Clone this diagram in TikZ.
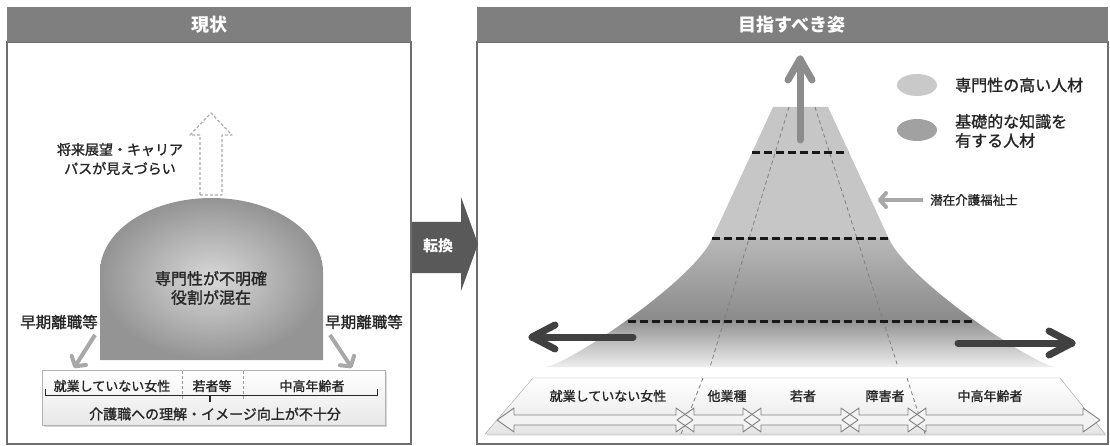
\documentclass[tikz,border=0pt]{standalone}
\usepackage{fontspec}
\setmainfont{Noto Sans CJK JP}
\newfontfamily\jpl{Noto Sans CJK JP}[FakeBold=1.3]
\usetikzlibrary{arrows.meta,shadows,shapes.geometric}
\definecolor{hdrgray}{HTML}{7F7F7F}
\definecolor{frame}{HTML}{6E6E6E}
\definecolor{lightarrow}{HTML}{A8A8A8}
\definecolor{darkarrow}{HTML}{404040}
\definecolor{uparrowc}{HTML}{8C8C8C}
\definecolor{pyrtop}{HTML}{C6C6C6}
\definecolor{txt}{HTML}{262626}
\newcommand\jsz[1]{\jpl\fontsize{#1}{#1}\selectfont}
\newcommand\jhd[1]{\normalfont\fontsize{#1}{#1}\selectfont\bfseries}
\begin{document}
\begin{tikzpicture}[x=1pt,y=-1pt,
  header/.style={fill=hdrgray},
  headtext/.style={text=white,font=\jhd{18},inner sep=0pt},
  panel/.style={draw=frame,line width=1.3pt,fill=white},
  lbl/.style={inner sep=0pt,text=txt,align=center},
  softarrow/.style={draw=lightarrow,line width=4pt,-{Straight Barb[length=7pt,width=17pt,round]}},
  bigarrow/.style={draw=darkarrow,line width=7pt,line cap=round,line join=round},
  upstyle/.style={draw=uparrowc,line width=7pt,line cap=round,line join=round},
  boldline/.style={draw=black!90,line width=3pt,dash pattern=on 8pt off 4pt},
  thindash/.style={draw=black!50,line width=0.8pt,dash pattern=on 4pt off 3pt},
  sepdash/.style={draw=black!40,line width=0.8pt,dash pattern=on 3pt off 2pt},
  legend/.style={ellipse,minimum width=40pt,minimum height=22pt,inner sep=0pt}
]
\useasboundingbox (0,0) rectangle (1110,446);
\fill[white] (0,0) rectangle (1110,446);

% panels
\draw[panel] (7,42) rectangle (411,444);
\draw[panel] (477,42) rectangle (1108,444);
\fill[header] (7,7) rectangle (411,42);
\fill[header] (477,7) rectangle (1108,42);
\node[headtext] (hL) at (209,25) {現状};
\node[headtext] (hR) at (792,25) {目指すべき姿};

% transition arrow
\fill[black!65] (412,222) -- (461,222) -- (461,197) -- (478,244) -- (461,291) -- (461,273) -- (412,273) -- cycle;
\node[inner sep=0pt,text=white,font=\jhd{15}] (tr) at (438,246) {転換};

% ---------------- left panel ----------------
\draw[draw=black!32,line width=1.2pt,dash pattern=on 3pt off 2pt,line join=round]
  (200,195) -- (200,135) -- (190,135) -- (211,113) -- (232,135) -- (222,135) -- (222,195) -- cycle;
\node[lbl,font=\jsz{14}] (future) at (120,159) {将来展望・キャリア\\[5pt]パスが見えづらい};

\shade[inner color=black!15, outer color=black!42]
  (100,360) -- (100,272) .. controls (100,231.1) and (149.9,198) .. (211.5,198)
  .. controls (273.1,198) and (323,231.1) .. (323,272) -- (323,360) -- cycle;
\node[lbl,font=\jsz{16}] (dome) at (211,288) {専門性が不明確\\[3pt]役割が混在};

\node[lbl,font=\jsz{15.5}] (quitL) at (59,322) {早期離職等};
\node[lbl,font=\jsz{15.5}] (quitR) at (364,322) {早期離職等};

\path[draw=black!30,top color=white,bottom color=black!9,
  drop shadow={shadow xshift=1.5pt,shadow yshift=-1.5pt,opacity=0.3}]
  (42,370) rectangle (385,425);
\coordinate (lboxNW) at (74,368);
\coordinate (lboxNE) at (352,368);
\draw[softarrow] (95,335) -- (lboxNW);
\draw[softarrow] (330,335) -- (lboxNE);

\draw[sepdash] (182,371) -- (182,400);
\draw[sepdash] (243,371) -- (243,400);
\node[lbl,font=\jsz{13}] (w1) at (112,386) {就業していない女性};
\node[lbl,font=\jsz{13}] (w2) at (212,386) {若者等};
\node[lbl,font=\jsz{13}] (w3) at (312,386) {中高年齢者};
\draw[black!85,line width=1pt] (45,389) -- (45,395) -- (377,395) -- (377,389);
\draw[black!85,line width=2pt] (210,395) -- (210,402);
\node[lbl,font=\jsz{14}] (lack) at (215,414) {介護職への理解・イメージ向上が不十分};

% ---------------- right panel ----------------
\begin{scope}
\clip (773,107) -- (828,107) -- (889,239) .. controls (909,282) and (1035,366) .. (1056,367)
  -- (545,367) .. controls (566,366) and (692,282) .. (712,239) -- cycle;
\fill[pyrtop] (540,100) rectangle (1060,240);
\shade[top color=black!28, bottom color=black!46] (540,239) rectangle (1060,321.5);
\shade[top color=black!42, bottom color=black!6] (540,321) rectangle (1060,368);
\end{scope}

\draw[thindash] (789,107) -- (710,367);
\draw[thindash] (815,107) -- (898,367);
\draw[boldline] (752,153) -- (848,153);
\draw[boldline] (712,239) -- (890,239);
\draw[boldline] (628,321) -- (975,321);

% up arrow
\coordinate (upS) at (800,140);
\coordinate (upT) at (800,59);
\draw[upstyle] (upS) -- (upT);
\draw[upstyle] (788,80) -- (upT) -- (812,80);

% side arrows
\coordinate (lS) at (633,337); \coordinate (lT) at (532,337);
\draw[bigarrow] (lS) -- (lT);
\draw[bigarrow] (555,325) -- (lT) -- (555,349);
\coordinate (rS) at (958,343); \coordinate (rT) at (1072,343);
\draw[bigarrow] (rS) -- (rT);
\draw[bigarrow] (1049,331) -- (rT) -- (1049,355);

% legend
\node[legend,fill=black!21] (lg1) at (917,85) {};
\node[legend,fill=black!37] (lg2) at (917,130) {};
\node[lbl,font=\jsz{16},anchor=west] (lt1) at (955,85) {専門性の高い人材};
\node[lbl,font=\jsz{16},anchor=west,align=left] (lt2) at (955,131) {基礎的な知識を\\[3pt]有する人材};
\node[lbl,font=\jsz{12.5},anchor=west] (pot) at (930,200) {潜在介護福祉士};
\coordinate (potT) at (878,200);
\draw[softarrow,-{Straight Barb[length=6pt,width=14pt,round]}] (pot.west) ++(-7,0) -- (potT);

% band
\path[draw=black!35,top color=white,bottom color=black!10,
  drop shadow={shadow xshift=1.5pt,shadow yshift=-1.5pt,opacity=0.25}]
  (533,378) -- (1060,378) -- (1105,434) -- (485,434) -- cycle;
\draw[thindash] (703,378) -- (681,434);
\draw[thindash] (907,378) -- (925,434);
\foreach \L/\R in {497/693, 677/760, 744/858, 842/925, 909/1100}{
  \fill[black!4,opacity=0.85] (\L,420) -- ({\L+17},408) -- ({\L+17},415) -- ({\R-17},415) -- ({\R-17},408)
    -- (\R,420) -- ({\R-17},432) -- ({\R-17},425) -- ({\L+17},425) -- ({\L+17},432) -- cycle;
}
\foreach \L/\R in {497/693, 677/760, 744/858, 842/925, 909/1100}{
  \draw[black!50,line width=0.9pt,line join=round] (\L,420) -- ({\L+17},408) -- ({\L+17},415) -- ({\R-17},415) -- ({\R-17},408)
    -- (\R,420) -- ({\R-17},432) -- ({\R-17},425) -- ({\L+17},425) -- ({\L+17},432) -- cycle;
}
\node[lbl,font=\jsz{13}] (g1) at (608,396) {就業していない女性};
\node[lbl,font=\jsz{13}] (g2) at (727,396) {他業種};
\node[lbl,font=\jsz{13}] (g3) at (803,396) {若者};
\node[lbl,font=\jsz{13}] (g4) at (885,396) {障害者};
\node[lbl,font=\jsz{13}] (g5) at (990,396) {中高年齢者};
\end{tikzpicture}
\end{document}
